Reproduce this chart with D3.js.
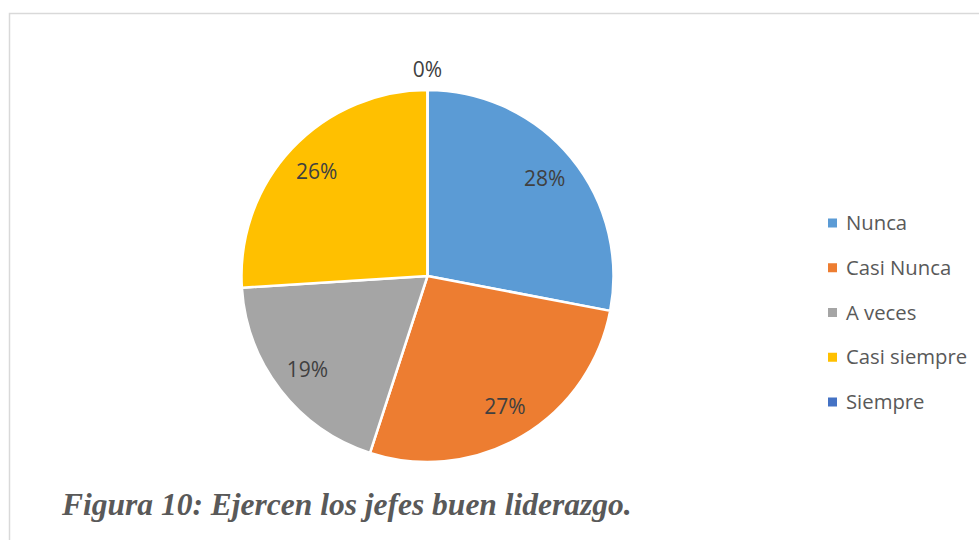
<!DOCTYPE html>
<html>
<head>
<meta charset="utf-8">
<script src="https://cdn.jsdelivr.net/npm/d3@7"></script>
<style>
  body { margin: 0; background: #fff; }
  svg { display: block; }
</style>
</head>
<body>
<svg id="chart" width="979" height="540"></svg>
<script>
// data
const categories = ['Nunca', 'Casi Nunca', 'A veces', 'Casi siempre', 'Siempre'];
const values = [28, 27, 19, 26, 0];
const colors = ['#5B9BD5', '#ED7D31', '#A5A5A5', '#FFC000', '#4472C4'];
const title = 'Figura 10: Ejercen los jefes buen liderazgo.';

const svg = d3.select('#chart');

// chart frame
svg.append('rect')
  .attr('x', 9.5)
  .attr('y', 13.5)
  .attr('width', 1000)
  .attr('height', 600)
  .attr('fill', '#fff')
  .attr('stroke', '#d9d9d9')
  .attr('stroke-width', 1.5);

const cx = 427.5, cy = 276, radius = 186;
const total = d3.sum(values);

const color = d3.scaleOrdinal().domain(categories).range(colors);

const pie = d3.pie()
  .sort(null)
  .value((d) => d.value);

const data = categories.map((c, i) => ({ name: c, value: values[i] }));
const arcs = pie(data);

const arc = d3.arc().innerRadius(0).outerRadius(radius);
const labelArc = d3.arc().innerRadius(152).outerRadius(152);
const outerArc = d3.arc().innerRadius(radius + 20).outerRadius(radius + 20);

const chart = svg.append('g')
  .attr('transform', `translate(${cx}, ${cy})`);

chart.selectAll('path.slice')
  .data(arcs)
  .enter()
  .append('path')
  .attr('class', 'slice')
  .attr('d', arc)
  .attr('fill', (d) => color(d.data.name))
  .attr('stroke', '#fff')
  .attr('stroke-width', 2.5)
  .attr('stroke-linejoin', 'round');

// percentage labels; empty slices get their label outside
chart.selectAll('text.pct')
  .data(arcs)
  .enter()
  .append('text')
  .attr('class', 'pct')
  .attr('transform', (d) => {
    const p = d.value === 0 ? outerArc.centroid(d) : labelArc.centroid(d);
    return `translate(${p[0]}, ${p[1]})`;
  })
  .attr('text-anchor', 'middle')
  .attr('dy', '0.35em')
  .attr('font-family', "'Open Sans', sans-serif")
  .attr('font-size', '21px')
  .attr('fill', '#404040')
  .text((d) => `${Math.round(d.value / total * 100)}%`);

// legend
const legendY = d3.scalePoint()
  .domain(categories)
  .range([223, 402]);

const legend = svg.append('g')
  .selectAll('g')
  .data(categories)
  .enter()
  .append('g')
  .attr('transform', (d) => `translate(828, ${legendY(d)})`);

legend.append('rect')
  .attr('x', 0)
  .attr('y', -4.5)
  .attr('width', 9)
  .attr('height', 9)
  .attr('fill', (d) => color(d));

legend.append('text')
  .attr('x', 18)
  .attr('dy', '0.35em')
  .attr('font-family', "'Open Sans', sans-serif")
  .attr('font-size', '20.3px')
  .attr('fill', '#595959')
  .text((d) => d);

// caption
svg.append('text')
  .attr('x', 62)
  .attr('y', 515)
  .attr('font-family', "'Liberation Serif', 'Times New Roman', serif")
  .attr('font-style', 'italic')
  .attr('font-weight', 'bold')
  .attr('font-size', '31.5px')
  .attr('fill', '#595959')
  .text(title);
</script>
</body>
</html>
